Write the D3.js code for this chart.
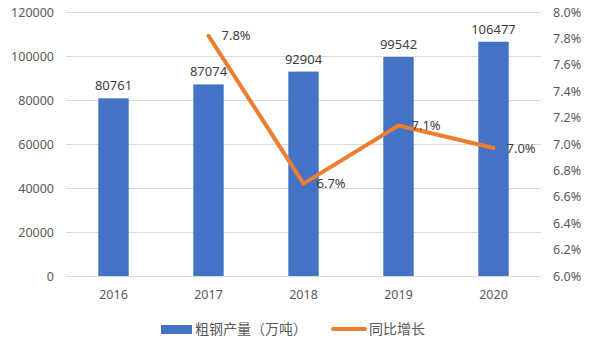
<!DOCTYPE html>
<html>
<head>
<meta charset="utf-8">
<script src="https://cdn.jsdelivr.net/npm/d3@7"></script>
<style>
  body { margin: 0; background: #fff; }
  text { font-family: "Noto Sans", "Noto Sans CJK SC", sans-serif; }
</style>
</head>
<body>
<div id="chart"></div>
<script>
// Crude steel output and YoY growth
const years = ['2016', '2017', '2018', '2019', '2020'];
const output = [80761, 87074, 92904, 99542, 106477];
const growthYears = ['2017', '2018', '2019', '2020'];
const growth = [7.82, 6.70, 7.14, 6.97];
const leftTicks = [0, 20000, 40000, 60000, 80000, 100000, 120000];
const rightTicks = [6.0, 6.2, 6.4, 6.6, 6.8, 7.0, 7.2, 7.4, 7.6, 7.8, 8.0];

const W = 595, H = 351;
const margin = { top: 12, right: 54, bottom: 75, left: 66 };
const width = W - margin.left - margin.right;
const height = H - margin.top - margin.bottom;

const svg = d3.select('#chart').append('svg')
    .attr('width', W)
    .attr('height', H);

const g = svg.append('g')
    .attr('transform', `translate(${margin.left},${margin.top})`);

// Scales
const x = d3.scaleBand().domain(years).range([0, width]).paddingInner(0.68).paddingOuter(0.34);
const xc = d3.scaleBand().domain(years).range([0, width]);
const yL = d3.scaleLinear().domain([0, 120000]).range([height, 0]);
const yR = d3.scaleLinear().domain([6.0, 8.0]).range([height, 0]);

// Gridlines
g.selectAll('.grid')
    .data(leftTicks)
    .enter().append('line')
    .attr('class', 'grid')
    .attr('x1', 0).attr('x2', width)
    .attr('y1', d => yL(d) + 0.5).attr('y2', d => yL(d) + 0.5)
    .attr('stroke', '#d9d9d9')
    .attr('stroke-width', 1);

// Left axis
const leftAxis = g.append('g')
    .call(d3.axisLeft(yL).tickValues(leftTicks).tickSize(0).tickPadding(12).tickFormat(d3.format('d')));
leftAxis.select('.domain').remove();
leftAxis.selectAll('text').attr('fill', '#595959').style('font-size', '12.5px');

// Right axis
const rightAxis = g.append('g')
    .attr('transform', `translate(${width},0)`)
    .call(d3.axisRight(yR).tickValues(rightTicks).tickSize(0).tickPadding(12).tickFormat(d => d.toFixed(1) + '%'));
rightAxis.select('.domain').remove();
rightAxis.selectAll('text').attr('fill', '#595959').style('font-size', '12.5px');

// Bottom axis
const bottomAxis = g.append('g')
    .attr('transform', `translate(0,${height})`)
    .call(d3.axisBottom(xc).tickSize(0).tickPadding(14));
bottomAxis.select('.domain').remove();
bottomAxis.selectAll('text').attr('fill', '#595959').style('font-size', '12.5px');

// Bars
g.selectAll('.bar')
    .data(output)
    .enter().append('rect')
    .attr('class', 'bar')
    .attr('x', (d, i) => x(years[i]))
    .attr('y', d => yL(d))
    .attr('width', x.bandwidth())
    .attr('height', d => height - yL(d))
    .attr('fill', '#4472C4');

// Bar labels
g.selectAll('.bar-label')
    .data(output)
    .enter().append('text')
    .attr('class', 'bar-label')
    .attr('x', (d, i) => x(years[i]) + x.bandwidth() / 2)
    .attr('y', d => yL(d) - 8)
    .attr('text-anchor', 'middle')
    .attr('fill', '#404040')
    .style('font-size', '13px')
    .text(d => d);

// Growth line
const cx = (d, i) => xc(growthYears[i]) + xc.bandwidth() / 2;
const line = d3.line()
    .x(cx)
    .y(d => yR(d));

g.append('path')
    .datum(growth)
    .attr('d', line)
    .attr('fill', 'none')
    .attr('stroke', '#ED7D31')
    .attr('stroke-width', 4)
    .attr('stroke-linejoin', 'round')
    .attr('stroke-linecap', 'round');

g.selectAll('.line-label')
    .data(growth)
    .enter().append('text')
    .attr('class', 'line-label')
    .attr('x', (d, i) => cx(d, i) + 13)
    .attr('y', d => yR(d))
    .attr('dy', '0.35em')
    .attr('fill', '#404040')
    .style('font-size', '13px')
    .text(d => d.toFixed(1) + '%');

// Legend
const legend = svg.append('g');
legend.append('rect')
    .attr('x', 161).attr('y', 325)
    .attr('width', 31).attr('height', 9)
    .attr('fill', '#4472C4');
legend.append('text')
    .attr('x', 195).attr('y', 329.5)
    .attr('dy', '0.35em')
    .attr('fill', '#595959')
    .style('font-size', '14px')
    .text('粗钢产量（万吨）');
legend.append('line')
    .attr('x1', 333).attr('x2', 365)
    .attr('y1', 329).attr('y2', 329)
    .attr('stroke', '#ED7D31')
    .attr('stroke-width', 4)
    .attr('stroke-linecap', 'round');
legend.append('text')
    .attr('x', 369).attr('y', 329.5)
    .attr('dy', '0.35em')
    .attr('fill', '#595959')
    .style('font-size', '14px')
    .text('同比增长');
</script>
</body>
</html>
